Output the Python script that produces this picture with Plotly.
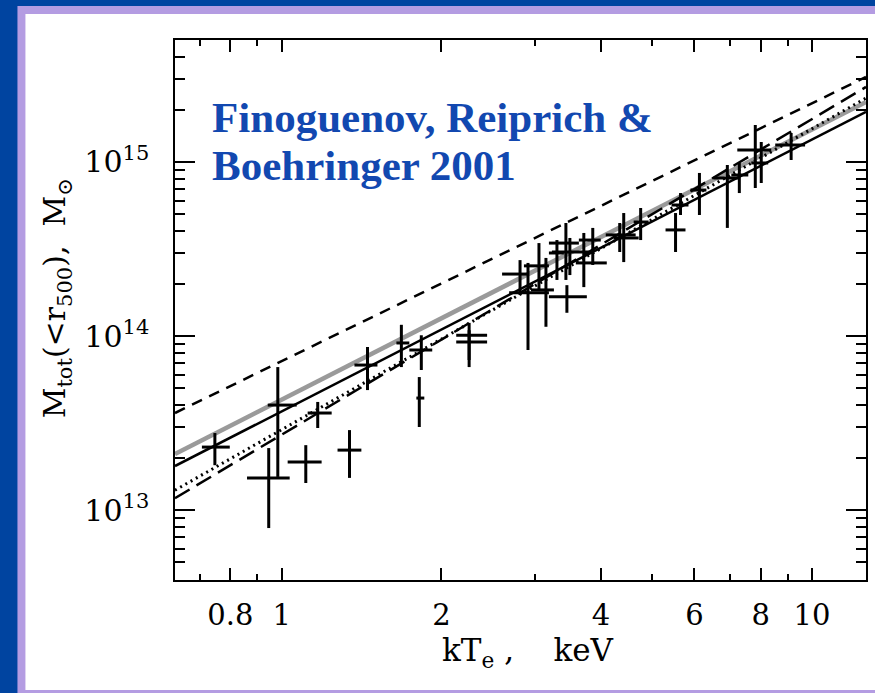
import plotly.graph_objects as go

# ---------------- data ----------------
T = [0.748, 0.945, 0.983, 1.110, 1.169, 1.342, 1.451, 1.681, 1.833, 1.817, 2.256, 2.256,
     2.814, 2.913, 3.055, 3.149, 3.303, 3.434, 3.449, 3.494, 3.712, 3.859, 4.338, 4.414,
     4.751, 5.528, 5.649, 6.132, 6.922, 7.292, 7.815, 8.020, 9.131]
T_lo = [0.707, 0.860, 0.941, 1.026, 1.119, 1.274, 1.371, 1.645, 1.740, 1.794, 2.133, 2.133,
        2.603, 2.684, 2.862, 2.951, 3.190, 3.190, 3.190, 3.232, 3.585, 3.633, 4.083, 4.227,
        4.609, 5.293, 5.433, 5.898, 6.516, 7.043, 7.228, 7.680, 8.522]
T_hi = [0.798, 1.035, 1.067, 1.189, 1.242, 1.413, 1.515, 1.740, 1.922, 1.857, 2.439, 2.439,
        2.900, 3.190, 3.190, 3.260, 3.404, 3.633, 3.761, 3.794, 4.101, 3.995, 4.649, 4.710,
        4.918, 5.772, 5.847, 6.321, 7.260, 7.581, 8.374, 8.266, 9.701]
M = [2.30e13, 1.53e13, 4.01e13, 1.89e13, 3.61e13, 2.21e13, 6.81e13, 9.12e13, 8.31e13, 4.40e13,
     1.01e14, 9.24e13, 2.27e14, 1.77e14, 2.53e14, 1.84e14, 3.00e14, 3.42e14, 1.68e14, 3.04e14,
     2.63e14, 3.56e14, 3.81e14, 3.66e14, 4.52e14, 4.07e14, 5.66e14, 6.90e14, 8.09e14, 8.42e14,
     1.172e15, 9.87e14, 1.252e15]
M_hi = [2.77e13, 2.27e13, 6.63e13, 2.36e13, 4.18e13, 2.88e13, 8.65e13, 1.16e14, 1.01e14, 5.81e13,
        1.19e14, 1.08e14, 2.73e14, 2.63e14, 3.42e14, 2.81e14, 3.56e14, 4.46e14, 1.96e14, 3.66e14,
        3.91e14, 4.18e14, 4.46e14, 5.09e14, 5.44e14, 5.09e14, 6.63e14, 8.65e14, 9.61e14, 9.87e14,
        1.632e15, 1.303e15, 1.468e15]
M_lo = [1.81e13, 7.88e12, 1.55e13, 1.43e13, 2.96e13, 1.53e13, 4.89e13, 6.63e13, 6.38e13, 3.00e13,
        7.28e13, 6.63e13, 1.72e14, 8.31e13, 1.84e14, 1.13e14, 2.10e14, 2.10e14, 1.36e14, 2.24e14,
        1.91e14, 2.56e14, 3.04e14, 2.66e14, 3.56e14, 3.04e14, 4.96e14, 4.96e14, 4.18e14, 6.63e14,
        7.09e14, 7.57e14, 1.027e15]

# relation lines (end points at the plot edges)
line_T = [0.629, 12.64]
dashed_M = [3.61e13, 3.08e15]
longdash_M = [1.17e13, 2.70e15]
dotted_M = [1.30e13, 2.33e15]
gray_M = [2.10e13, 2.21e15]
solid_M = [1.79e13, 1.94e15]

x_ticks = [0.8, 1, 2, 4, 6, 8, 10]
x_ticktext = ["0.8", "1", "2", "4", "6", "8", "10"]
x_minor = [0.7, 0.9, 3, 5, 7, 9]
y_ticks = [1e13, 1e14, 1e15]
y_ticktext = ["10<sup>13</sup>", "10<sup>14</sup>", "10<sup>15</sup>"]
y_minor = [4e12, 5e12, 6e12, 7e12, 8e12, 9e12,
           2e13, 3e13, 4e13, 5e13, 6e13, 7e13, 8e13, 9e13,
           2e14, 3e14, 4e14, 5e14, 6e14, 7e14, 8e14, 9e14,
           2e15, 3e15, 4e15, 5e15]

title_lines = ["Finoguenov, Reiprich &", "Boehringer 2001"]

# ---------------- figure ----------------
fig = go.Figure()

fig.add_trace(go.Scatter(x=line_T, y=gray_M, mode="lines",
                         line=dict(color="#9a9a9a", width=4.5), showlegend=False))
fig.add_trace(go.Scatter(x=line_T, y=solid_M, mode="lines",
                         line=dict(color="black", width=2.5), showlegend=False))
fig.add_trace(go.Scatter(x=line_T, y=dotted_M, mode="lines",
                         line=dict(color="black", width=3, dash="2px,4px"), showlegend=False))
fig.add_trace(go.Scatter(x=line_T, y=longdash_M, mode="lines",
                         line=dict(color="black", width=2.5, dash="17px,8px"), showlegend=False))
fig.add_trace(go.Scatter(x=line_T, y=dashed_M, mode="lines",
                         line=dict(color="black", width=2.5, dash="11px,8px"), showlegend=False))

fig.add_trace(go.Scatter(
    x=T, y=M, mode="markers",
    marker=dict(size=0.1, color="black", opacity=0),
    error_x=dict(type="data", symmetric=False,
                 array=[h - t for h, t in zip(T_hi, T)],
                 arrayminus=[t - l for t, l in zip(T, T_lo)],
                 color="black", thickness=3, width=0),
    error_y=dict(type="data", symmetric=False,
                 array=[h - m for h, m in zip(M_hi, M)],
                 arrayminus=[m - l for m, l in zip(M, M_lo)],
                 color="black", thickness=3, width=0),
    showlegend=False))

# plot area in pixels: x 175..868, y 40..580
L, R, TOP, BOT = 175, 868, 40, 580
W, H = 875, 693
pw, ph = R - L, BOT - TOP


def px(x):
    return (x - L) / pw


def py(y):
    return (BOT - y) / ph


shapes = [
    dict(type="rect", xref="paper", yref="paper", x0=px(17), x1=px(W + 10), y0=py(H + 10), y1=py(6),
         fillcolor="#B49CE2", line=dict(width=0), layer="below"),
    dict(type="rect", xref="paper", yref="paper", x0=px(25), x1=px(W + 10), y0=py(690), y1=py(14),
         fillcolor="white", line=dict(width=0), layer="below"),
]

font_ax = "DejaVu Serif"
annotations = [
    dict(text=title_lines[0], xref="paper", yref="paper", x=px(210), y=py(117),
         xanchor="left", yanchor="middle", showarrow=False,
         font=dict(family="Liberation Serif", size=43, color="#1248B0", weight="bold")),
    dict(text=title_lines[1], xref="paper", yref="paper", x=px(210), y=py(165),
         xanchor="left", yanchor="middle", showarrow=False,
         font=dict(family="Liberation Serif", size=43, color="#1248B0", weight="bold")),
    dict(text="kT<sub>e</sub> ,\u00a0\u00a0\u00a0\u00a0keV", xref="paper", yref="paper",
         x=px(529), y=py(652), xanchor="center", yanchor="middle", showarrow=False,
         font=dict(family=font_ax, size=31, color="black")),
    dict(text="M<sub>tot</sub>(&lt;r<sub>500</sub>),\u00a0\u00a0M<sub>\u2299</sub>",
         xref="paper", yref="paper", x=px(56), y=py(298), xanchor="center", yanchor="middle",
         textangle=-90, showarrow=False,
         font=dict(family=font_ax, size=30, color="black")),
]

fig.update_layout(
    width=W, height=H,
    margin=dict(l=L, r=W - R, t=TOP, b=H - BOT, pad=0),
    paper_bgcolor="#0044A0",
    plot_bgcolor="rgba(0,0,0,0)",
    shapes=shapes,
    annotations=annotations,
    showlegend=False,
)

fig.update_xaxes(
    type="log", range=[-0.2013, 1.1017],
    tickmode="array", tickvals=x_ticks, ticktext=x_ticktext,
    ticks="inside", ticklen=12, tickwidth=1.5, tickcolor="black",
    mirror="allticks", showline=True, linecolor="black", linewidth=1.5,
    showgrid=False, zeroline=False,
    tickfont=dict(family=font_ax, size=29, color="black"),
    ticklabelstandoff=8,
    minor=dict(tickmode="array", tickvals=x_minor, ticks="inside", ticklen=6,
               tickwidth=1.5, tickcolor="black", showgrid=False),
)
fig.update_yaxes(
    type="log", range=[12.598, 15.701],
    tickmode="array", tickvals=y_ticks, ticktext=y_ticktext,
    ticks="inside", ticklen=20, tickwidth=1.5, tickcolor="black",
    mirror="allticks", showline=True, linecolor="black", linewidth=1.5,
    showgrid=False, zeroline=False,
    tickfont=dict(family=font_ax, size=30, color="black"),
    ticklabelstandoff=18,
    minor=dict(tickmode="array", tickvals=y_minor, ticks="inside", ticklen=10,
               tickwidth=1.5, tickcolor="black", showgrid=False),
)

fig.write_html("out.html")
